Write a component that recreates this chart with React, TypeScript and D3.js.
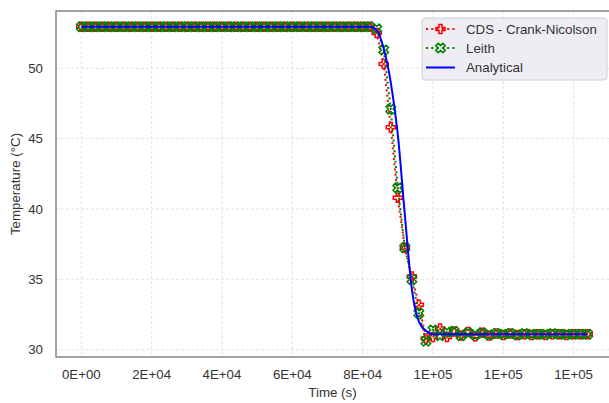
import React, { useEffect, useRef } from "react";
import * as d3 from "d3";

// time stamps (s)
const times = [
  0, 2000, 4000, 6000, 8000, 10000, 12000, 14000, 16000, 18000,
  20000, 22000, 24000, 26000, 28000, 30000, 32000, 34000, 36000, 38000,
  40000, 42000, 44000, 46000, 48000, 50000, 52000, 54000, 56000, 58000,
  60000, 62000, 64000, 66000, 68000, 70000, 72000, 74000, 76000, 78000,
  80000, 82000, 84000, 86000, 88000, 90000, 92000, 94000, 96000, 98000,
  100000, 102000, 104000, 106000, 108000, 110000, 112000, 114000, 116000, 118000,
  120000, 122000, 124000, 126000, 128000, 130000, 132000, 134000, 136000, 138000,
  140000, 142000, 144000,
];

const cdsValues = [
  52.95, 52.95, 52.95, 52.95, 52.95, 52.95, 52.95, 52.95, 52.95, 52.95,
  52.95, 52.95, 52.95, 52.95, 52.95, 52.95, 52.95, 52.95, 52.95, 52.95,
  52.95, 52.95, 52.95, 52.95, 52.95, 52.95, 52.95, 52.95, 52.95, 52.95,
  52.95, 52.95, 52.95, 52.95, 52.95, 52.95, 52.95, 52.95, 52.95, 52.95,
  52.95, 52.95, 52.5, 50.3, 45.8, 40.8, 37.25, 35.2, 33.2, 30.8,
  30.9, 31.5, 30.9, 31.3, 31.0, 31.25, 30.95, 31.2, 31.0, 31.15,
  31.05, 31.15, 31.05, 31.1, 31.05, 31.1, 31.05, 31.1, 31.1, 31.05,
  31.1, 31.1, 31.1,
];

const leithValues = [
  52.95, 52.95, 52.95, 52.95, 52.95, 52.95, 52.95, 52.95, 52.95, 52.95,
  52.95, 52.95, 52.95, 52.95, 52.95, 52.95, 52.95, 52.95, 52.95, 52.95,
  52.95, 52.95, 52.95, 52.95, 52.95, 52.95, 52.95, 52.95, 52.95, 52.95,
  52.95, 52.95, 52.95, 52.95, 52.95, 52.95, 52.95, 52.95, 52.95, 52.95,
  52.95, 52.95, 52.8, 51.3, 47.1, 41.5, 37.25, 35.0, 32.6, 30.6,
  31.4, 31.0, 31.25, 31.3, 31.0, 31.2, 31.05, 31.2, 31.05, 31.15,
  31.1, 31.15, 31.05, 31.15, 31.1, 31.1, 31.1, 31.15, 31.1, 31.1,
  31.1, 31.1, 31.1,
];

const analyticalValues = [
  52.95, 52.95, 52.95, 52.95, 52.95, 52.95, 52.95, 52.95, 52.95, 52.95,
  52.95, 52.95, 52.95, 52.95, 52.95, 52.95, 52.95, 52.95, 52.95, 52.95,
  52.95, 52.95, 52.95, 52.95, 52.95, 52.95, 52.95, 52.95, 52.95, 52.95,
  52.95, 52.95, 52.95, 52.95, 52.95, 52.95, 52.95, 52.95, 52.95, 52.95,
  52.95, 52.95, 52.7, 51.4, 49.0, 45.3, 39.6, 34.3, 32.0, 31.35,
  31.1, 31.1, 31.1, 31.1, 31.1, 31.1, 31.1, 31.1, 31.1, 31.1,
  31.1, 31.1, 31.1, 31.1, 31.1, 31.1, 31.1, 31.1, 31.1, 31.1,
  31.1, 31.1, 31.1,
];

const xTicks = [0, 20000, 40000, 60000, 80000, 100000, 120000, 140000];
const xTickLabels = ["0E+00", "2E+04", "4E+04", "6E+04", "8E+04", "1E+05", "1E+05", "1E+05"];
const yTicks = [30, 35, 40, 45, 50];

const seriesNames = ["CDS - Crank-Nicolson", "Leith", "Analytical"];

const FONT = "'Liberation Sans', Arial, sans-serif";

// matplotlib filled-plus ("P") and filled-x ("X") outlines
const plusVerts = [[-1, -3], [1, -3], [1, -1], [3, -1], [3, 1], [1, 1], [1, 3], [-1, 3], [-1, 1], [-3, 1], [-3, -1], [-1, -1]];
const crossVerts = [[-1, -2], [0, -1], [1, -2], [2, -1], [1, 0], [2, 1], [1, 2], [0, 1], [-1, 2], [-2, 1], [-1, 0], [-2, -1]];

const markerPath = (verts: number[][], scale: number) =>
  "M" + verts.map((v) => `${v[0] * scale},${v[1] * scale}`).join("L") + "Z";

const App = () => {
  const svgRef = useRef<SVGSVGElement>(null);

  const width = 609;
  const height = 403;

  useEffect(() => {
    const svg = d3.select(svgRef.current);
    svg.selectAll("*").remove();

    const left = 56;
    const right = 613;
    const top = 11;
    const bottom = 357;

    const xScale = d3.scaleLinear().domain([-7200, 151200]).range([left, right]);
    const yScale = d3.scaleLinear().domain([29.48, 54.07]).range([bottom, top]);

    svg.append("rect").attr("width", width).attr("height", height).attr("fill", "#fff");

    // grid
    const grid = svg.append("g");
    grid
      .selectAll("line.gx")
      .data(xTicks)
      .enter()
      .append("line")
      .attr("x1", (d) => xScale(d))
      .attr("x2", (d) => xScale(d))
      .attr("y1", top)
      .attr("y2", bottom)
      .attr("stroke", "#dcdcdc")
      .attr("stroke-width", 0.8)
      .attr("stroke-dasharray", "3,2");
    grid
      .selectAll("line.gy")
      .data(yTicks)
      .enter()
      .append("line")
      .attr("x1", left)
      .attr("x2", right)
      .attr("y1", (d) => yScale(d))
      .attr("y2", (d) => yScale(d))
      .attr("stroke", "#dcdcdc")
      .attr("stroke-width", 0.8)
      .attr("stroke-dasharray", "3,2");

    // spines
    svg
      .append("rect")
      .attr("x", left)
      .attr("y", top)
      .attr("width", right - left)
      .attr("height", bottom - top)
      .attr("fill", "none")
      .attr("stroke", "#8c8c8c")
      .attr("stroke-width", 1.6);

    // tick labels
    svg
      .selectAll("text.xt")
      .data(xTicks)
      .enter()
      .append("text")
      .attr("x", (d) => xScale(d))
      .attr("y", 379)
      .attr("text-anchor", "middle")
      .attr("font-family", FONT)
      .attr("font-size", 13.3)
      .attr("fill", "#333")
      .text((d, i) => xTickLabels[i]);

    svg
      .selectAll("text.yt")
      .data(yTicks)
      .enter()
      .append("text")
      .attr("x", 43)
      .attr("y", (d) => yScale(d))
      .attr("dy", "0.35em")
      .attr("text-anchor", "end")
      .attr("font-family", FONT)
      .attr("font-size", 13.3)
      .attr("fill", "#333")
      .text((d) => d);

    // axis labels
    svg
      .append("text")
      .attr("x", (left + right) / 2 - 2)
      .attr("y", 397)
      .attr("text-anchor", "middle")
      .attr("font-family", FONT)
      .attr("font-size", 13.3)
      .attr("fill", "#333")
      .text("Time (s)");

    svg
      .append("text")
      .attr("transform", `translate(15,${(top + bottom) / 2}) rotate(-90)`)
      .attr("dy", "0.35em")
      .attr("text-anchor", "middle")
      .attr("font-family", FONT)
      .attr("font-size", 13.3)
      .attr("fill", "#333")
      .text("Temperature (°C)");

    const plus = markerPath(plusVerts, 9 / 6);
    const cross = markerPath(crossVerts, 9.5 / 4);

    const line = d3
      .line<number>()
      .x((d, i) => xScale(times[i]))
      .y((d) => yScale(d));

    // CDS - Crank-Nicolson
    svg
      .append("path")
      .datum(cdsValues)
      .attr("d", line)
      .attr("fill", "none")
      .attr("stroke", "red")
      .attr("stroke-width", 2)
      .attr("stroke-dasharray", "2,3.3");
    svg
      .append("g")
      .selectAll("path")
      .data(cdsValues)
      .enter()
      .append("path")
      .attr("d", plus)
      .attr("transform", (d, i) => `translate(${xScale(times[i])},${yScale(d)})`)
      .attr("fill", "none")
      .attr("stroke", "red")
      .attr("stroke-width", 1.5);

    // Leith
    svg
      .append("path")
      .datum(leithValues)
      .attr("d", line)
      .attr("fill", "none")
      .attr("stroke", "green")
      .attr("stroke-width", 2)
      .attr("stroke-dasharray", "2,3.3");
    svg
      .append("g")
      .selectAll("path")
      .data(leithValues)
      .enter()
      .append("path")
      .attr("d", cross)
      .attr("transform", (d, i) => `translate(${xScale(times[i])},${yScale(d)})`)
      .attr("fill", "none")
      .attr("stroke", "green")
      .attr("stroke-width", 1.5);

    // Analytical
    svg
      .append("path")
      .datum(analyticalValues)
      .attr("d", line.curve(d3.curveMonotoneX))
      .attr("fill", "none")
      .attr("stroke", "blue")
      .attr("stroke-width", 2);

    // legend
    const legend = svg.append("g");
    legend
      .append("rect")
      .attr("x", 422)
      .attr("y", 18)
      .attr("width", 185)
      .attr("height", 62)
      .attr("rx", 3)
      .attr("fill", "#ededf3")
      .attr("stroke", "#d0d0d0")
      .attr("stroke-width", 1);

    const rows = [29, 48, 67.5];
    const colors = ["red", "green", "blue"];
    seriesNames.forEach((name, i) => {
      const g = legend.append("g");
      const l = g
        .append("line")
        .attr("x1", 426)
        .attr("x2", 455)
        .attr("y1", rows[i])
        .attr("y2", rows[i])
        .attr("stroke", colors[i])
        .attr("stroke-width", 2);
      if (i < 2) {
        l.attr("stroke-dasharray", "2,3.3");
        g.append("path")
          .attr("d", i === 0 ? plus : cross)
          .attr("transform", `translate(440.5,${rows[i]})`)
          .attr("fill", "none")
          .attr("stroke", colors[i])
          .attr("stroke-width", 1.5);
      }
      g.append("text")
        .attr("x", 466)
        .attr("y", rows[i])
        .attr("dy", "0.35em")
        .attr("font-family", FONT)
        .attr("font-size", 13.3)
        .attr("fill", "#333")
        .text(name);
    });
  }, []);

  return (
    <svg
      ref={svgRef}
      width={width}
      height={height}
      style={{ position: "absolute", left: 0, top: 0 }}
    ></svg>
  );
};

export default App;
